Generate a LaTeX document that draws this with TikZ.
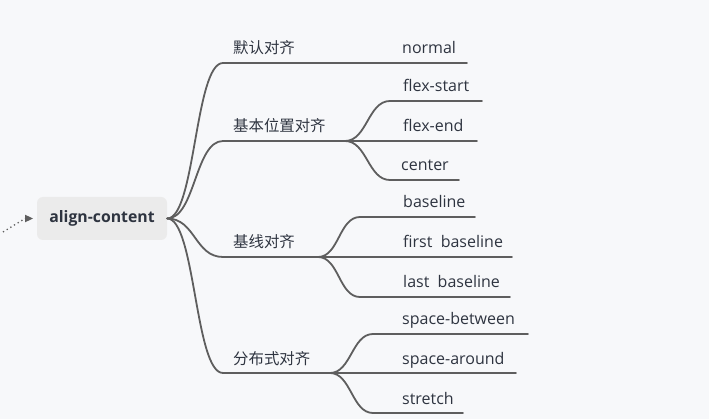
\documentclass[tikz,border=0pt]{standalone}
\usepackage{fontspec}
\setmainfont{Open Sans}
\newfontfamily\cjk{Noto Sans CJK SC}
\usetikzlibrary{arrows.meta}
\definecolor{bg}{HTML}{F7F8FA}
\definecolor{rootfill}{HTML}{EBEBEB}
\definecolor{linec}{HTML}{5E5E5E}
\definecolor{txt}{HTML}{2E3440}
\tikzset{
  branch/.style={draw=linec, line width=1.8pt, line cap=round},
  lab/.style={anchor=base west, inner sep=0pt, text=txt, font=\fontsize{16}{18}\selectfont},
  cjklab/.style={anchor=base west, inner sep=0pt, text=txt, font=\cjk\fontsize{15.4}{17}\selectfont},
  rootbox/.style={fill=rootfill, rounded corners=6pt, minimum width=130pt, minimum height=43pt, inner sep=0pt, text=txt, font=\bfseries\fontsize{15.8}{18}\selectfont}
}
\begin{document}
\begin{tikzpicture}[x=1pt,y=-1pt]
\fill[bg] (0,0) rectangle (709,419);
\useasboundingbox (0,0) rectangle (709,419);

\node[rootbox] (root) at (102,218.5) {align-content};
\coordinate (in) at (3,232);
\coordinate (tip) at (33,218.5);
\coordinate (tipbase) at (25,218.5);
\draw[linec, line width=1.3pt, dash pattern=on 1.3pt off 3pt] (in) -- (tipbase);
\fill[linec] (tip) -- ([yshift=-3.8pt]tipbase) -- ([yshift=3.8pt]tipbase) -- cycle;

% level 1 line coordinates
\coordinate (a0) at (223,63);  \coordinate (a1) at (467,63);
\coordinate (b0) at (223,141); \coordinate (b1) at (345,141);
\coordinate (c0) at (223,257); \coordinate (c1) at (318,257);
\coordinate (d0) at (223,373); \coordinate (d1) at (330,373);

\draw[branch] (root.east) .. controls +(28,0) and +(-28,0) .. (a0) -- (a1);
\draw[branch] (root.east) .. controls +(28,0) and +(-28,0) .. (b0) -- (b1);
\draw[branch] (root.east) .. controls +(28,0) and +(-28,0) .. (c0) -- (c1);
\draw[branch] (root.east) .. controls +(28,0) and +(-28,0) .. (d0) -- (d1);

\node[cjklab] (ta) at (233,54) {默认对齐};
\node[cjklab] (tb) at (233,132) {基本位置对齐};
\node[cjklab] (tc) at (233,248) {基线对齐};
\node[cjklab] (td) at (233,364) {分布式对齐};

% level 2 coordinates
\coordinate (b10) at (390,101); \coordinate (b11) at (482,101);
\coordinate (b21) at (477,141);
\coordinate (b30) at (390,180); \coordinate (b31) at (459,180);

\coordinate (c10) at (360,217); \coordinate (c11) at (475,217);
\coordinate (c21) at (512,257);
\coordinate (c30) at (360,297); \coordinate (c31) at (510,297);

\coordinate (d10) at (373,334); \coordinate (d11) at (528,334);
\coordinate (d21) at (516,373);
\coordinate (d30) at (373,413); \coordinate (d31) at (463,413);

\draw[branch] (b1) .. controls +(22,0) and +(-22,0) .. (b10) -- (b11);
\draw[branch] (b1) -- (b21);
\draw[branch] (b1) .. controls +(22,0) and +(-22,0) .. (b30) -- (b31);

\draw[branch] (c1) .. controls +(21,0) and +(-21,0) .. (c10) -- (c11);
\draw[branch] (c1) -- (c21);
\draw[branch] (c1) .. controls +(21,0) and +(-21,0) .. (c30) -- (c31);

\draw[branch] (d1) .. controls +(21,0) and +(-21,0) .. (d10) -- (d11);
\draw[branch] (d1) -- (d21);
\draw[branch] (d1) .. controls +(21,0) and +(-21,0) .. (d30) -- (d31);

\node[lab] (ta1) at (402,54) {normal};
\node[lab] (tb1) at (403,92) {flex-start};
\node[lab] (tb2) at (403,132) {flex-end};
\node[lab] (tb3) at (401,171) {center};
\node[lab] (tc1) at (403,208) {baseline};
\node[lab] (tc2) at (403,248) {first\ \ baseline};
\node[lab] (tc3) at (403,288) {last\ \ baseline};
\node[lab] (td1) at (402,325) {space-between};
\node[lab] (td2) at (402,364) {space-around};
\node[lab] (td3) at (402,404) {stretch};
\end{tikzpicture}
\end{document}
